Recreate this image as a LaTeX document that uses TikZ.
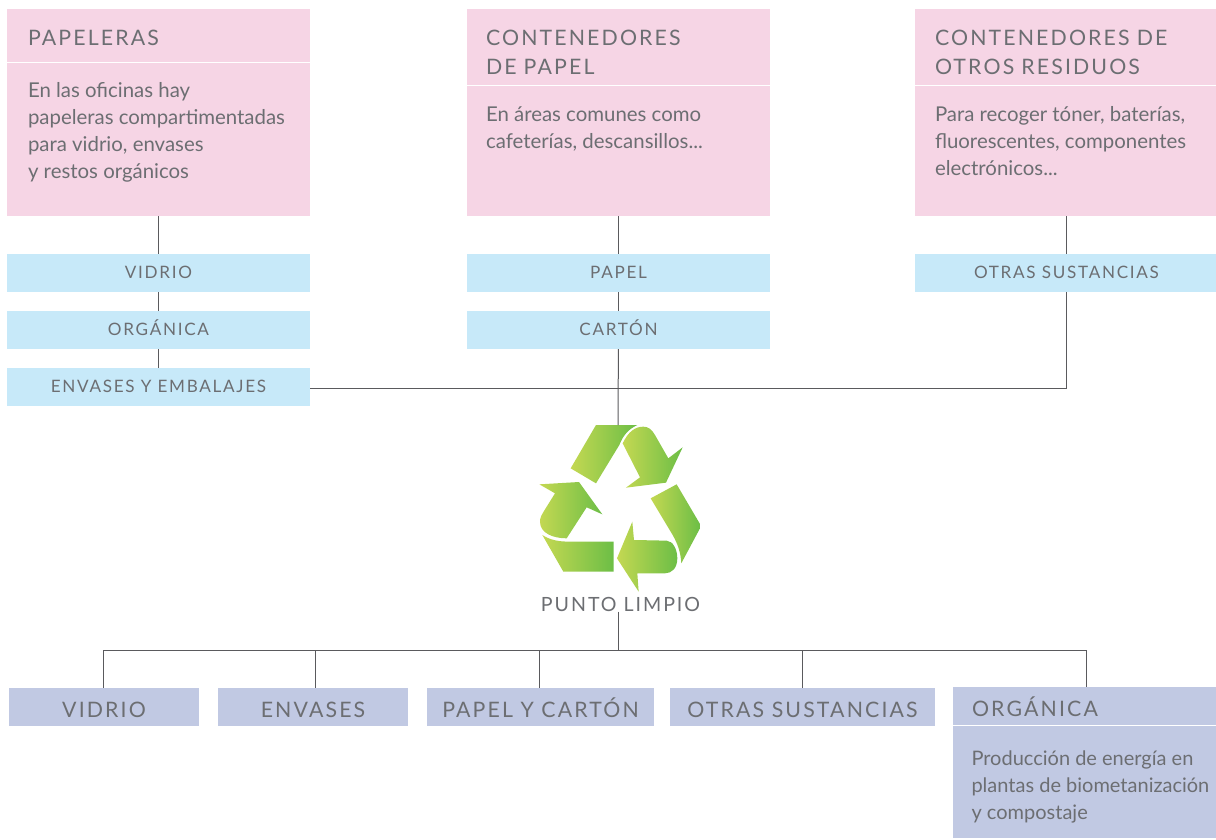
\documentclass[tikz,border=0pt]{standalone}
\usepackage{fontspec}
\usepackage{xcolor}
\usepackage{tikz}
\usetikzlibrary{positioning,calc}
\setmainfont{Lato}
\newfontfamily\capsfont[LetterSpace=10]{Lato}
\definecolor{pinkbox}{RGB}{246,213,229}
\definecolor{bluebox}{RGB}{199,233,249}
\definecolor{lilacbox}{RGB}{193,201,227}
\definecolor{txtgray}{RGB}{108,110,114}
\definecolor{linegray}{RGB}{90,90,93}
\definecolor{leafa}{RGB}{196,216,82}
\definecolor{leafb}{RGB}{108,190,70}

\begin{document}
\begin{tikzpicture}[
  x=1pt, y=-1pt,
  node distance=19pt,
  txtall/.style={text=txtgray, inner sep=0pt, outer sep=0pt},
  head/.style={txtall, fill=pinkbox, inner xsep=21pt, text width=261pt, anchor=north west, align=left, text height=36pt, font=\fontsize{21.3}{29}\capsfont},
  body/.style={fill=pinkbox, minimum width=303pt, inner sep=0pt, outer sep=0pt},
  bodytxt/.style={txtall, anchor=north west, align=left, font=\fontsize{20.4}{27}\selectfont},
  tag/.style={txtall, fill=bluebox, minimum width=303pt, text height=24.5pt, text depth=13.5pt, font=\fontsize{17.1}{18}\capsfont},
  dest/.style={txtall, fill=lilacbox, text height=29.5pt, text depth=8.5pt, font=\fontsize{21.3}{24}\capsfont},
  lin/.style={draw=linegray, line width=1pt},
  leaf/.style={left color=leafa, right color=leafb}
]
\useasboundingbox (0,0) rectangle (1216,839);

% top boxes
\node[head, text depth=17pt] (pap) at (7,9) {PAPELERAS};
\node[body, minimum height=153pt, below=1pt of pap] (papb) {};
\node[bodytxt] at (28,82.5) {En las oficinas hay\\papeleras compartimentadas\\para vidrio, envases\\y restos orgánicos};

\node[head, inner xsep=19pt, text width=265pt, text depth=40pt] (con) at (467,9) {CONTENEDORES\\DE PAPEL};
\node[body, minimum height=130pt, below=1pt of con] (conb) {};
\node[bodytxt] at (486,106.5) {En áreas comunes como\\cafeterías, descansillos...};

\node[head, inner xsep=20pt, text width=263pt, text depth=40pt] (otr) at (915,9) {CONTENEDORES DE\\OTROS RESIDUOS};
\node[body, minimum height=130pt, below=1pt of otr] (otrb) {};
\node[bodytxt] at (935,106.5) {Para recoger tóner, baterías,\\fluorescentes, componentes\\electrónicos...};

% blue tags
\node[tag, below=38pt of papb] (vid) {VIDRIO};
\node[tag, below=of vid] (org) {ORGÁNICA};
\node[tag, below=of org] (env) {ENVASES Y EMBALAJES};
\node[tag, below=38pt of conb] (papel) {PAPEL};
\node[tag, below=of papel] (cart) {CARTÓN};
\node[tag, below=38pt of otrb] (sust) {OTRAS SUSTANCIAS};

% logo
\begin{scope}[shift={(520,400)}, x=0.3333pt, y=-0.3333pt]
\shade[leaf] (228,75) -- (352,75) .. controls (325,88) and (310,105) .. (298,135) -- (228,250) -- (152,205) -- cycle;
\shade[leaf] (308,130) .. controls (325,95) and (345,80) .. (370,80) .. controls (385,80) and (395,88) .. (405,105) -- (445,175) -- (488,142) -- (438,248) -- (318,263) -- (360,232) -- cycle;
\shade[leaf] (470,253) -- (540,372) -- (540,385) -- (484,490) .. controls (482,455) and (472,430) .. (458,405) -- (392,295) -- cycle;
\shade[leaf] (337,365) -- (342,420) -- (440,422) .. controls (460,423) and (472,450) .. (472,475) .. controls (472,505) and (455,520) .. (435,520) -- (352,520) -- (356,575) -- (291,475) -- cycle;
\shade[leaf] (67,405) .. controls (90,420) and (115,425) .. (150,425) -- (281,425) -- (281,515) -- (130,515) -- cycle;
\shade[leaf] (58,253) -- (177,246) -- (247,343) -- (200,322) -- (140,415) .. controls (100,415) and (60,400) .. (60,365) .. controls (60,352) and (65,345) .. (72,333) -- (105,280) -- cycle;
\end{scope}
\coordinate (logotop) at (618,425);
\node[txtall, font=\fontsize{19.6}{20}\capsfont] (punto) at (620.5,604.5) {PUNTO LIMPIO};

% bottom boxes
\node[dest, minimum width=190pt] (dvid) at (104,707) {VIDRIO};
\node[dest, minimum width=190pt, right=19pt of dvid] (denv) {ENVASES};
\node[dest, minimum width=227pt, right=19pt of denv] (dpap) {PAPEL Y CARTÓN};
\node[dest, minimum width=265pt, right=16pt of dpap] (dsus) {OTRAS SUSTANCIAS};
\node[head, fill=lilacbox, inner xsep=19pt, text width=225pt, text height=29.5pt, text depth=8.5pt] (dorg) at (953,687) {ORGÁNICA};
\node[body, fill=lilacbox, minimum width=263pt, minimum height=112pt, below=1pt of dorg] (dorgb) {};
\node[bodytxt, font=\fontsize{20}{27}\selectfont] at (971.5,750.5) {Producción de energía en\\plantas de biometanización\\y compostaje};

% connectors
\draw[lin] (papb) -- (vid);
\draw[lin] (vid) -- (org);
\draw[lin] (org) -- (env);
\draw[lin] (conb) -- (papel);
\draw[lin] (papel) -- (cart);
\draw[lin] (otrb) -- (sust);
\draw[lin] (cart) -- (logotop);
\draw[lin] ([yshift=-1.5pt]env.east) -| (sust);
\coordinate (bus) at (618,650);
\draw[lin] (punto.south -| bus) -- (bus);
\draw[lin] (bus) -| ([xshift=-1pt]dvid.north);
\draw[lin] (bus) -| ([xshift=2pt]denv.north);
\draw[lin] (bus) -| ([xshift=-1pt]dpap.north);
\draw[lin] (bus) -| (dsus.north);
\draw[lin] (bus) -| ([xshift=1.5pt]dorg.north);
\end{tikzpicture}
\end{document}
